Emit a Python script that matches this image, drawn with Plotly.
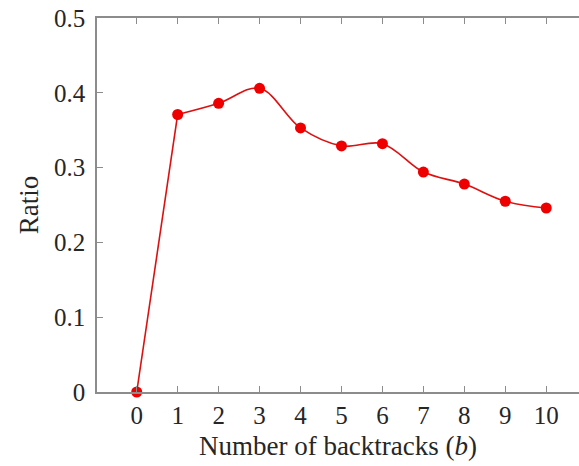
import plotly.graph_objects as go

backtracks = [0, 1, 2, 3, 4, 5, 6, 7, 8, 9, 10]
ratio = [0.0, 0.371, 0.386, 0.406, 0.353, 0.329, 0.332, 0.294, 0.278, 0.255, 0.246]
x_ticks = list(range(0, 11))
y_ticks = [0, 0.1, 0.2, 0.3, 0.4, 0.5]
y_tick_labels = ["0", "0.1", "0.2", "0.3", "0.4", "0.5"]

line_color = "#dd1010"
marker_color = "#ee0000"

fig = go.Figure()
# steep first segment (nearly straight in the reference)
fig.add_trace(go.Scatter(
    x=backtracks[:2], y=ratio[:2], mode="lines",
    line=dict(color=line_color, width=1.6),
    showlegend=False, cliponaxis=False, hoverinfo="skip",
))
# smooth remainder
fig.add_trace(go.Scatter(
    x=backtracks[1:], y=ratio[1:], mode="lines",
    line=dict(color=line_color, width=1.6, shape="spline", smoothing=1.0),
    showlegend=False, cliponaxis=False, hoverinfo="skip",
))
fig.add_trace(go.Scatter(
    x=backtracks, y=ratio, mode="markers",
    marker=dict(color=marker_color, size=11),
    showlegend=False, cliponaxis=False,
))

font_family = "Liberation Serif, DejaVu Serif, serif"
axis_color = "#8c8c8c"

fig.update_layout(
    width=579, height=466,
    margin=dict(l=97, r=0, t=18, b=74),
    paper_bgcolor="white", plot_bgcolor="white",
    font=dict(family=font_family, size=25, color="#262626"),
    xaxis=dict(
        range=[-0.97, 10.8], tickmode="array", tickvals=x_ticks,
        ticks="inside", ticklen=6, tickcolor=axis_color, tickwidth=1,
        showline=True, linecolor=axis_color, linewidth=1.5, mirror="ticks",
        showgrid=False, zeroline=False,
        tickfont=dict(size=25),
        title=dict(text="Number of backtracks (<i>b</i>)", standoff=8, font=dict(size=27)),
    ),
    yaxis=dict(
        range=[0, 0.5], tickmode="array", tickvals=y_ticks, ticktext=y_tick_labels,
        ticks="inside", ticklen=6, tickcolor=axis_color, tickwidth=1,
        showline=True, linecolor=axis_color, linewidth=1.5, mirror=False,
        showgrid=False, zeroline=False,
        tickfont=dict(size=25), ticklabelstandoff=5,
        title=dict(text="Ratio", standoff=8, font=dict(size=27)),
    ),
)

fig.write_html("out.html")
